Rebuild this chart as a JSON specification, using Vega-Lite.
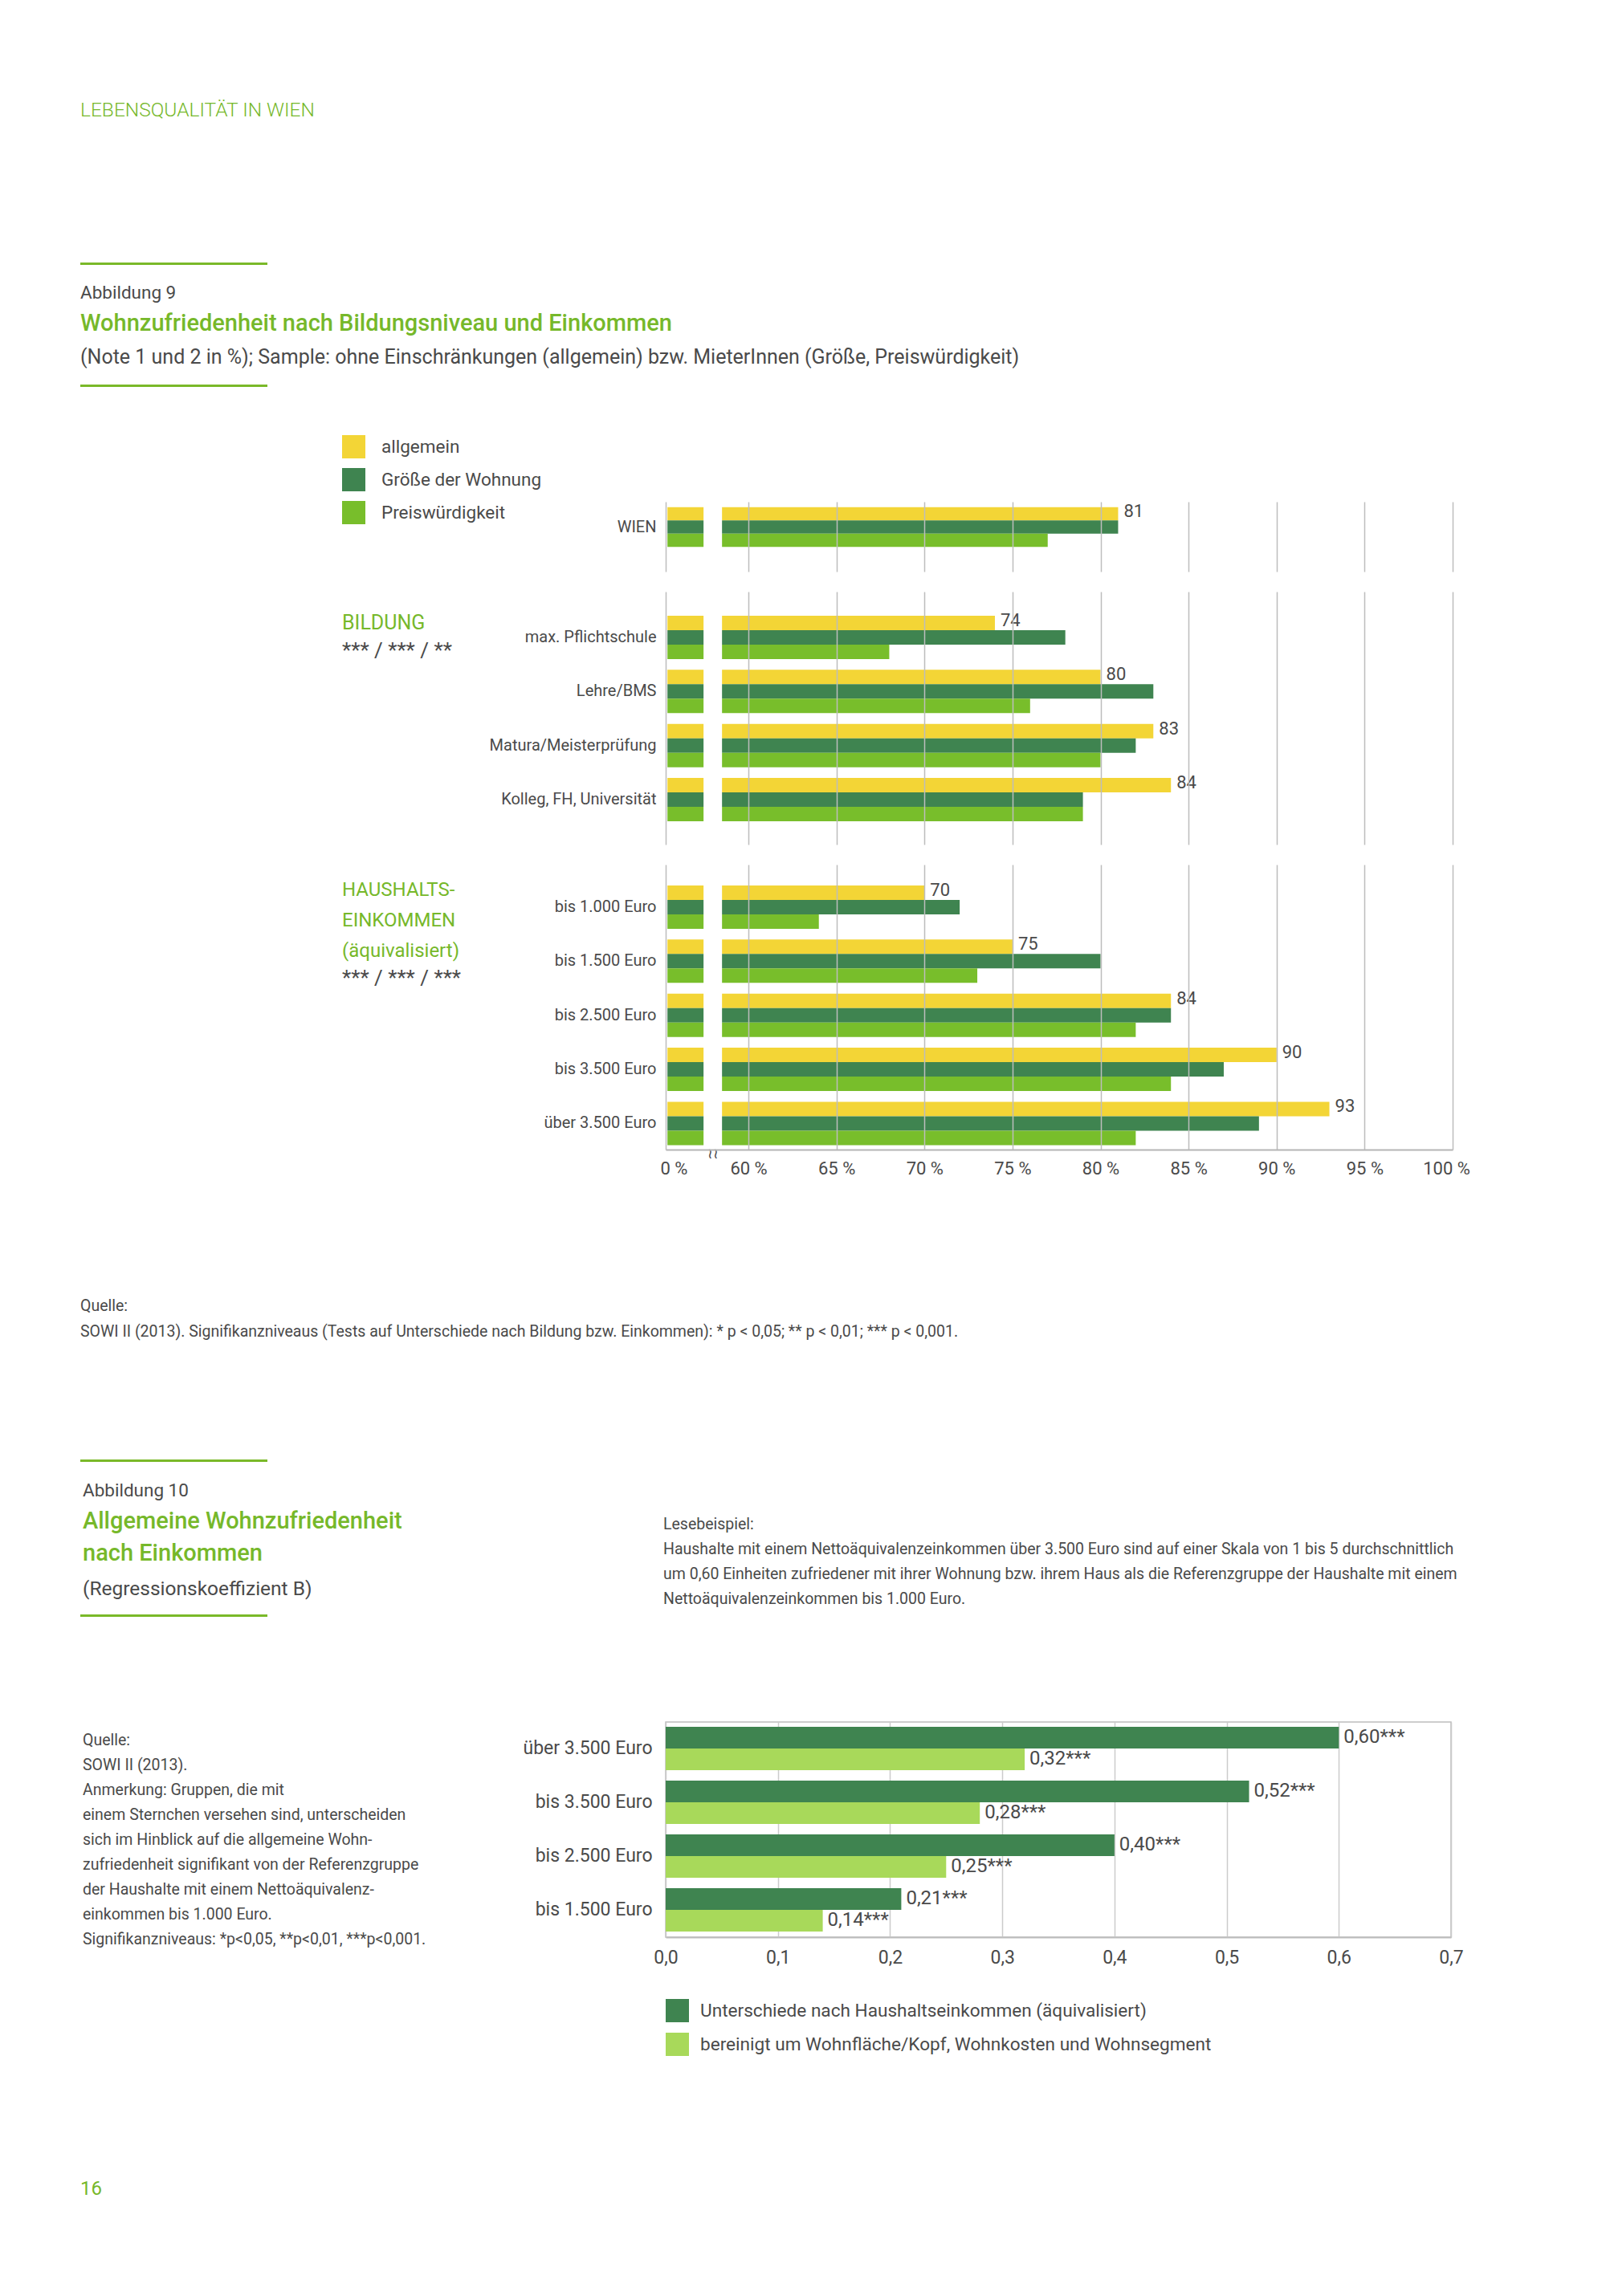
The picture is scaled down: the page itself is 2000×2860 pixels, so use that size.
{
  "$schema": "https://vega.github.io/schema/vega-lite/v6.json",
  "background": "white",
  "padding": 0,
  "columns": 3,
  "align": "each",
  "bounds": "flush",
  "spacing": 0,
  "resolve": {"scale": {"color": "independent", "yOffset": "independent"}, "legend": {"color": "independent"}},
  "config": {
    "font": "Roboto",
    "view": {"stroke": null},
    "title": {"anchor": "start", "frame": "group", "orient": "bottom", "color": "#4A4A4A", "fontWeight": "normal", "subtitleColor": "#4A4A4A", "subtitleFontWeight": "normal", "limit": 1900},
    "axis": {"labelColor": "#4A4A4A", "title": null, "ticks": false, "domain": false, "tickSize": 0},
    "legend": {"labelColor": "#4A4A4A"}
  },
  "datasets": {
    "fig9": [
      {"group": "WIEN", "category": "WIEN", "series": "allgemein", "value": 81},
      {"group": "WIEN", "category": "WIEN", "series": "Größe der Wohnung", "value": 81},
      {"group": "WIEN", "category": "WIEN", "series": "Preiswürdigkeit", "value": 77},
      {"group": "BILDUNG", "category": "max. Pflichtschule", "series": "allgemein", "value": 74},
      {"group": "BILDUNG", "category": "max. Pflichtschule", "series": "Größe der Wohnung", "value": 78},
      {"group": "BILDUNG", "category": "max. Pflichtschule", "series": "Preiswürdigkeit", "value": 68},
      {"group": "BILDUNG", "category": "Lehre/BMS", "series": "allgemein", "value": 80},
      {"group": "BILDUNG", "category": "Lehre/BMS", "series": "Größe der Wohnung", "value": 83},
      {"group": "BILDUNG", "category": "Lehre/BMS", "series": "Preiswürdigkeit", "value": 76},
      {"group": "BILDUNG", "category": "Matura/Meisterprüfung", "series": "allgemein", "value": 83},
      {"group": "BILDUNG", "category": "Matura/Meisterprüfung", "series": "Größe der Wohnung", "value": 82},
      {"group": "BILDUNG", "category": "Matura/Meisterprüfung", "series": "Preiswürdigkeit", "value": 80},
      {"group": "BILDUNG", "category": "Kolleg, FH, Universität", "series": "allgemein", "value": 84},
      {"group": "BILDUNG", "category": "Kolleg, FH, Universität", "series": "Größe der Wohnung", "value": 79},
      {"group": "BILDUNG", "category": "Kolleg, FH, Universität", "series": "Preiswürdigkeit", "value": 79},
      {"group": "EINKOMMEN", "category": "bis 1.000 Euro", "series": "allgemein", "value": 70},
      {"group": "EINKOMMEN", "category": "bis 1.000 Euro", "series": "Größe der Wohnung", "value": 72},
      {"group": "EINKOMMEN", "category": "bis 1.000 Euro", "series": "Preiswürdigkeit", "value": 64},
      {"group": "EINKOMMEN", "category": "bis 1.500 Euro", "series": "allgemein", "value": 75},
      {"group": "EINKOMMEN", "category": "bis 1.500 Euro", "series": "Größe der Wohnung", "value": 80},
      {"group": "EINKOMMEN", "category": "bis 1.500 Euro", "series": "Preiswürdigkeit", "value": 73},
      {"group": "EINKOMMEN", "category": "bis 2.500 Euro", "series": "allgemein", "value": 84},
      {"group": "EINKOMMEN", "category": "bis 2.500 Euro", "series": "Größe der Wohnung", "value": 84},
      {"group": "EINKOMMEN", "category": "bis 2.500 Euro", "series": "Preiswürdigkeit", "value": 82},
      {"group": "EINKOMMEN", "category": "bis 3.500 Euro", "series": "allgemein", "value": 90},
      {"group": "EINKOMMEN", "category": "bis 3.500 Euro", "series": "Größe der Wohnung", "value": 87},
      {"group": "EINKOMMEN", "category": "bis 3.500 Euro", "series": "Preiswürdigkeit", "value": 84},
      {"group": "EINKOMMEN", "category": "über 3.500 Euro", "series": "allgemein", "value": 93},
      {"group": "EINKOMMEN", "category": "über 3.500 Euro", "series": "Größe der Wohnung", "value": 89},
      {"group": "EINKOMMEN", "category": "über 3.500 Euro", "series": "Preiswürdigkeit", "value": 82}
    ],
    "fig10": [
      {"category": "über 3.500 Euro", "series": "Unterschiede nach Haushaltseinkommen (äquivalisiert)", "value": 0.60, "label": "0,60***"},
      {"category": "über 3.500 Euro", "series": "bereinigt um Wohnfläche/Kopf, Wohnkosten und Wohnsegment", "value": 0.32, "label": "0,32***"},
      {"category": "bis 3.500 Euro", "series": "Unterschiede nach Haushaltseinkommen (äquivalisiert)", "value": 0.52, "label": "0,52***"},
      {"category": "bis 3.500 Euro", "series": "bereinigt um Wohnfläche/Kopf, Wohnkosten und Wohnsegment", "value": 0.28, "label": "0,28***"},
      {"category": "bis 2.500 Euro", "series": "Unterschiede nach Haushaltseinkommen (äquivalisiert)", "value": 0.40, "label": "0,40***"},
      {"category": "bis 2.500 Euro", "series": "bereinigt um Wohnfläche/Kopf, Wohnkosten und Wohnsegment", "value": 0.25, "label": "0,25***"},
      {"category": "bis 1.500 Euro", "series": "Unterschiede nach Haushaltseinkommen (äquivalisiert)", "value": 0.21, "label": "0,21***"},
      {"category": "bis 1.500 Euro", "series": "bereinigt um Wohnfläche/Kopf, Wohnkosten und Wohnsegment", "value": 0.14, "label": "0,14***"}
    ]
  },
  "concat": [
    {"width": 100, "height": 126, "data": {"values": []}, "mark": "point"},
    {"width": 729, "height": 1, "data": {"values": []}, "mark": "point"},
    {"width": 980, "height": 1, "data": {"values": []}, "mark": "point"},

    {"width": 100, "height": 1, "data": {"values": []}, "mark": "point"},
    {"width": 729, "height": 201, "data": {"values": []}, "mark": "point",
     "title": {"text": "LEBENSQUALITÄT IN WIEN", "offset": -201, "fontSize": 24.5, "fontWeight": 300, "color": "#76B82A"}},
    {"width": 980, "height": 1, "data": {"values": []}, "mark": "point"},

    {"width": 100, "height": 27, "data": {"values": []}, "mark": "point"},
    {"width": 233, "height": 3, "data": {"values": []}, "mark": "point", "view": {"fill": "#7AB929", "stroke": null}},
    {"width": 980, "height": 1, "data": {"values": []}, "mark": "point"},

    {"width": 100, "height": 1, "data": {"values": []}, "mark": "point"},
    {"width": 729, "height": 35, "data": {"values": []}, "mark": "point",
     "title": {"text": "Abbildung 9", "offset": -35, "fontSize": 22.5}},
    {"width": 980, "height": 1, "data": {"values": []}, "mark": "point"},

    {"width": 100, "height": 1, "data": {"values": []}, "mark": "point"},
    {"width": 729, "height": 44, "data": {"values": []}, "mark": "point",
     "title": {"text": "Wohnzufriedenheit nach Bildungsniveau und Einkommen", "offset": -44, "fontSize": 29, "fontWeight": 500, "color": "#76B82A"}},
    {"width": 980, "height": 1, "data": {"values": []}, "mark": "point"},

    {"width": 100, "height": 1, "data": {"values": []}, "mark": "point"},
    {"width": 729, "height": 46, "data": {"values": []}, "mark": "point",
     "title": {"text": "(Note 1 und 2 in %); Sample: ohne Einschränkungen (allgemein) bzw. MieterInnen (Größe, Preiswürdigkeit)", "offset": -46, "fontSize": 25}},
    {"width": 980, "height": 1, "data": {"values": []}, "mark": "point"},

    {"width": 100, "height": 146, "data": {"values": []}, "mark": "point"},
    {"width": 233, "height": 3, "data": {"values": []}, "mark": "point", "view": {"fill": "#7AB929", "stroke": null}},
    {"width": 980, "height": 1, "data": {"values": []}, "mark": "point"},

    {"width": 100, "height": 112, "data": {"values": []}, "mark": "point"},
    {"width": 729, "height": 1, "data": {"values": []}, "mark": "point"},
    {"width": 980, "height": 87,
     "data": {"name": "fig9"},
     "transform": [{"filter": "datum.group == 'WIEN'"}],
     "encoding": {
       "y": {"field": "category", "type": "nominal", "sort": null, "scale": {"paddingInner": 0.1983, "paddingOuter": 0.3056, "align": 0.1818}, "axis": {"labelFontSize": 20, "labelPadding": 12, "labelLimit": 500}},
       "yOffset": {"field": "series", "type": "nominal", "scale": {"domain": ["allgemein", "Größe der Wohnung", "Preiswürdigkeit"], "paddingInner": 0, "paddingOuter": 0}},
       "color": {"field": "series", "type": "nominal", "scale": {"domain": ["allgemein", "Größe der Wohnung", "Preiswürdigkeit"], "range": ["#F3D536", "#3F8450", "#78BE2B"]},
         "legend": {"title": null, "orient": "none", "legendX": -403, "legendY": -83, "direction": "vertical", "symbolType": "square", "symbolSize": 841, "symbolStrokeWidth": 0, "symbolOpacity": 1, "labelFontSize": 22.5, "labelOffset": 20, "rowPadding": 12, "padding": 0, "labelLimit": 500}}
     },
     "layer": [
       {"mark": {"type": "bar"}, "encoding": {"x": {"datum": 55.4, "type": "quantitative"}, "x2": {"datum": 57.45}}},
       {"mark": {"type": "bar"}, "encoding": {
         "x": {"field": "value", "type": "quantitative", "scale": {"domain": [55.3, 100], "nice": false, "zero": false},
           "axis": {"values": [55.3, 60, 65, 70, 75, 80, 85, 90, 95, 100], "grid": true, "gridColor": "#BDBDBD", "gridWidth": 1.5, "labels": false, "zindex": 1}},
         "x2": {"datum": 58.5}}},
       {"transform": [{"filter": "datum.series == 'allgemein'"}],
        "mark": {"type": "text", "align": "left", "baseline": "middle", "dx": 7, "dy": -3, "fontSize": 22},
        "encoding": {"x": {"field": "value", "type": "quantitative"}, "text": {"field": "value", "type": "quantitative"}, "color": {"value": "#4A4A4A"}}}
     ]
    },

    {"width": 100, "height": 340, "data": {"values": []}, "mark": "point"},
    {"width": 729, "height": 1, "data": {"values": []}, "mark": "point"},
    {"width": 980, "height": 315,
     "data": {"name": "fig9"},
     "transform": [{"filter": "datum.group == 'BILDUNG'"}],
     "title": {"text": "BILDUNG", "subtitle": "*** / *** / **", "offset": -288, "dx": -403, "fontSize": 25, "color": "#76B82A", "subtitleFontSize": 26, "subtitlePadding": 9},
     "encoding": {
       "y": {"field": "category", "type": "nominal", "sort": null, "scale": {"paddingInner": 0.1983, "paddingOuter": 0.4373, "align": 0.509}, "axis": {"labelFontSize": 20, "labelPadding": 12, "labelLimit": 500}},
       "yOffset": {"field": "series", "type": "nominal", "scale": {"domain": ["allgemein", "Größe der Wohnung", "Preiswürdigkeit"], "paddingInner": 0, "paddingOuter": 0}},
       "color": {"field": "series", "type": "nominal", "scale": {"domain": ["allgemein", "Größe der Wohnung", "Preiswürdigkeit"], "range": ["#F3D536", "#3F8450", "#78BE2B"]}, "legend": null}
     },
     "layer": [
       {"mark": {"type": "bar"}, "encoding": {"x": {"datum": 55.4, "type": "quantitative"}, "x2": {"datum": 57.45}}},
       {"mark": {"type": "bar"}, "encoding": {
         "x": {"field": "value", "type": "quantitative", "scale": {"domain": [55.3, 100], "nice": false, "zero": false},
           "axis": {"values": [55.3, 60, 65, 70, 75, 80, 85, 90, 95, 100], "grid": true, "gridColor": "#BDBDBD", "gridWidth": 1.5, "labels": false, "zindex": 1}},
         "x2": {"datum": 58.5}}},
       {"transform": [{"filter": "datum.series == 'allgemein'"}],
        "mark": {"type": "text", "align": "left", "baseline": "middle", "dx": 7, "dy": -3, "fontSize": 22},
        "encoding": {"x": {"field": "value", "type": "quantitative"}, "text": {"field": "value", "type": "quantitative"}, "color": {"value": "#4A4A4A"}}}
     ]
    },

    {"width": 100, "height": 541, "data": {"values": []}, "mark": "point"},
    {"width": 729, "height": 1, "data": {"values": []}, "mark": "point"},
    {"width": 980, "height": 355,
     "data": {"name": "fig9"},
     "transform": [{"filter": "datum.group == 'EINKOMMEN'"}],
     "title": {"text": ["HAUSHALTS-", "EINKOMMEN", "(äquivalisiert)"], "subtitle": "*** / *** / ***", "lineHeight": 38, "offset": -369, "dx": -403, "fontSize": 24, "color": "#76B82A", "subtitleFontSize": 26, "subtitlePadding": 9},
     "encoding": {
       "y": {"field": "category", "type": "nominal", "sort": null, "scale": {"paddingInner": 0.1983, "paddingOuter": 0.2343, "align": 0.824}, "axis": {"labelFontSize": 20, "labelPadding": 12, "labelLimit": 500}},
       "yOffset": {"field": "series", "type": "nominal", "scale": {"domain": ["allgemein", "Größe der Wohnung", "Preiswürdigkeit"], "paddingInner": 0, "paddingOuter": 0}},
       "color": {"field": "series", "type": "nominal", "scale": {"domain": ["allgemein", "Größe der Wohnung", "Preiswürdigkeit"], "range": ["#F3D536", "#3F8450", "#78BE2B"]}, "legend": null}
     },
     "layer": [
       {"mark": {"type": "bar"}, "encoding": {"x": {"datum": 55.4, "type": "quantitative"}, "x2": {"datum": 57.45}}},
       {"mark": {"type": "bar"}, "encoding": {
         "x": {"field": "value", "type": "quantitative", "scale": {"domain": [55.3, 100], "nice": false, "zero": false},
           "axis": {"values": [55.3, 57.97, 60, 65, 70, 75, 80, 85, 90, 95, 100], "grid": true, "gridColor": "#BDBDBD", "gridWidth": 1.5,
             "gridOpacity": {"condition": {"test": "datum.value > 57 && datum.value < 59", "value": 0}, "value": 1},
             "labels": true, "labelOverlap": false, "labelFlush": false,
             "labelExpr": "datum.value < 56 ? '0 %' : (datum.value < 59 ? '≀≀' : datum.value + ' %')",
             "labelFontSize": {"condition": {"test": "datum.value > 57 && datum.value < 59", "value": 18}, "value": 22},
             "labelPadding": {"condition": {"test": "datum.value > 57 && datum.value < 59", "value": -4}, "value": 13},
             "labelOffset": {"condition": [{"test": "datum.value < 56", "value": 10}, {"test": "datum.value > 99", "value": -8}], "value": 0},
             "domain": true, "domainColor": "#B5B5B5", "domainWidth": 2, "zindex": 1}},
         "x2": {"datum": 58.5}}},
       {"transform": [{"filter": "datum.series == 'allgemein'"}],
        "mark": {"type": "text", "align": "left", "baseline": "middle", "dx": 7, "dy": -3, "fontSize": 22},
        "encoding": {"x": {"field": "value", "type": "quantitative"}, "text": {"field": "value", "type": "quantitative"}, "color": {"value": "#4A4A4A"}}}
     ]
    },

    {"width": 100, "height": 200, "data": {"values": []}, "mark": "point"},
    {"width": 729, "height": 1, "data": {"values": []}, "mark": "point",
     "title": {"text": ["Quelle:", "SOWI II (2013). Signifikanzniveaus (Tests auf Unterschiede nach Bildung bzw. Einkommen): * p < 0,05; ** p < 0,01; *** p < 0,001."], "offset": -1, "fontSize": 19.5, "lineHeight": 32}},
    {"width": 980, "height": 1, "data": {"values": []}, "mark": "point"},

    {"width": 100, "height": 28, "data": {"values": []}, "mark": "point"},
    {"width": 233, "height": 3, "data": {"values": []}, "mark": "point", "view": {"fill": "#7AB929", "stroke": null}},
    {"width": 980, "height": 1, "data": {"values": []}, "mark": "point"},

    {"width": 100, "height": 33, "data": {"values": []}, "mark": "point"},
    {"width": 729, "height": 1, "data": {"values": []}, "mark": "point",
     "title": {"text": "Abbildung 10", "offset": -1, "dx": 3, "fontSize": 22.5}},
    {"width": 980, "height": 1, "data": {"values": []}, "mark": "point"},

    {"width": 100, "height": 89, "data": {"values": []}, "mark": "point"},
    {"width": 729, "height": 1, "data": {"values": []}, "mark": "point",
     "title": {"text": ["Allgemeine Wohnzufriedenheit", "nach Einkommen"], "offset": 1, "dx": 3, "fontSize": 29, "fontWeight": 500, "lineHeight": 40, "color": "#76B82A"}},
    {"width": 980, "height": 1, "data": {"values": []}, "mark": "point",
     "title": {"text": ["Lesebeispiel:", "Haushalte mit einem Nettoäquivalenzeinkommen über 3.500 Euro sind auf einer Skala von 1 bis 5 durchschnittlich", "um 0,60 Einheiten zufriedener mit ihrer Wohnung bzw. ihrem Haus als die Referenzgruppe der Haushalte mit einem", "Nettoäquivalenzeinkommen bis 1.000 Euro."], "offset": 10, "dx": -3, "fontSize": 19.5, "lineHeight": 31}},

    {"width": 100, "height": 43, "data": {"values": []}, "mark": "point"},
    {"width": 729, "height": 1, "data": {"values": []}, "mark": "point",
     "title": {"text": "(Regressionskoeffizient B)", "offset": -1, "dx": 3, "fontSize": 24.5}},
    {"width": 980, "height": 1, "data": {"values": []}, "mark": "point"},

    {"width": 100, "height": 134, "data": {"values": []}, "mark": "point"},
    {"width": 233, "height": 3, "data": {"values": []}, "mark": "point", "view": {"fill": "#7AB929", "stroke": null}},
    {"width": 980, "height": 1, "data": {"values": []}, "mark": "point"},

    {"width": 100, "height": 570, "data": {"values": []}, "mark": "point"},
    {"width": 729, "height": 1, "data": {"values": []}, "mark": "point",
     "title": {"text": ["Quelle:", "SOWI II (2013).", "Anmerkung: Gruppen, die mit", "einem Sternchen versehen sind, unterscheiden", "sich im Hinblick auf die allgemeine Wohn-", "zufriedenheit signifikant von der Referenzgruppe", "der Haushalte mit einem Nettoäquivalenz-", "einkommen bis 1.000 Euro.", "Signifikanzniveaus: *p<0,05, **p<0,01, ***p<0,001."], "offset": 13, "dx": 3, "fontSize": 19.5, "lineHeight": 31}},
    {"width": 978, "height": 268,
     "view": {"stroke": "#BDBDBD", "strokeWidth": 1.5},
     "data": {"name": "fig10"},
     "encoding": {
       "y": {"field": "category", "type": "nominal", "sort": null, "scale": {"paddingInner": 0.194, "paddingOuter": 0.097, "align": 0.46}, "axis": {"labelFontSize": 23, "labelPadding": 17, "labelLimit": 500}},
       "yOffset": {"field": "series", "type": "nominal", "scale": {"domain": ["Unterschiede nach Haushaltseinkommen (äquivalisiert)", "bereinigt um Wohnfläche/Kopf, Wohnkosten und Wohnsegment"], "paddingInner": 0, "paddingOuter": 0}},
       "x": {"field": "value", "type": "quantitative", "scale": {"domain": [0, 0.7], "nice": false},
         "axis": {"values": [0, 0.1, 0.2, 0.3, 0.4, 0.5, 0.6, 0.7], "grid": true, "gridColor": "#CCCCCC", "gridWidth": 1.5, "domain": true, "domainColor": "#BDBDBD", "domainWidth": 2, "labelExpr": "replace(format(datum.value, '.1f'), '.', ',')", "labelFontSize": 23, "labelPadding": 14, "labelFlush": false, "labelOverlap": false}}
     },
     "layer": [
       {"mark": {"type": "bar"}, "encoding": {
         "color": {"field": "series", "type": "nominal", "scale": {"domain": ["Unterschiede nach Haushaltseinkommen (äquivalisiert)", "bereinigt um Wohnfläche/Kopf, Wohnkosten und Wohnsegment"], "range": ["#3F8450", "#A8D95A"]},
           "legend": {"title": null, "orient": "none", "legendX": 0, "legendY": 345, "direction": "vertical", "symbolType": "square", "symbolSize": 841, "symbolStrokeWidth": 0, "symbolOpacity": 1, "labelFontSize": 22.6, "labelOffset": 14, "rowPadding": 13, "padding": 0, "labelLimit": 1000}}}},
       {"mark": {"type": "text", "align": "left", "baseline": "middle", "dx": 6, "fontSize": 24, "color": "#4A4A4A"},
        "encoding": {"text": {"field": "label", "type": "nominal"}}}
     ]
    },

    {"width": 100, "height": 100, "data": {"values": []}, "mark": "point"},
    {"width": 729, "height": 1, "data": {"values": []}, "mark": "point",
     "title": {"text": "16", "offset": -1, "fontSize": 24, "color": "#76B82A"}},
    {"width": 980, "height": 1, "data": {"values": []}, "mark": "point"}
  ]
}
